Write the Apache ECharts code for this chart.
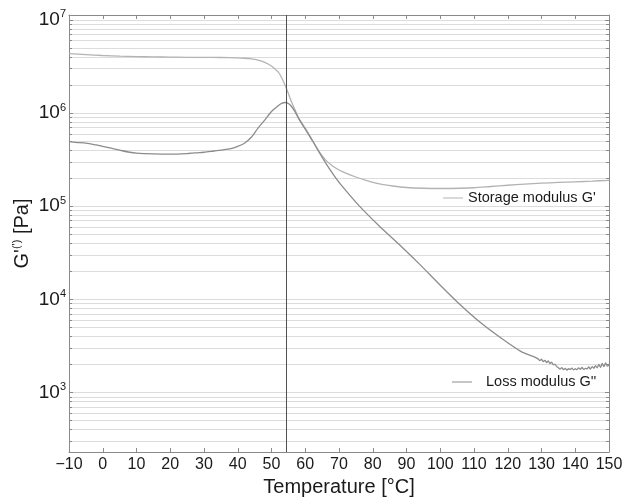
<!DOCTYPE html>
<html>
<head>
<meta charset="utf-8">
<script src="https://cdn.jsdelivr.net/npm/echarts@6/dist/echarts.min.js"></script>
<style>
  html, body { margin: 0; padding: 0; background: #ffffff; }
  #chart { width: 625px; height: 498px; }
</style>
</head>
<body>
<div id="chart"></div>
<script>
// Temperature sweep (°C) and storage modulus G' (Pa)
const storageTemp = [-10, -5, 0, 5, 10, 15, 20, 25, 30, 35, 40, 42, 44, 46, 48, 50, 52, 53, 54, 55, 56, 57, 58, 60, 62, 64, 66, 68, 70, 72, 75, 78, 82, 86, 90, 95, 100, 106, 110, 115, 120, 125, 130, 135, 140, 145, 150];
const storageModulus = [4.35e6, 4.25e6, 4.15e6, 4.08e6, 4.04e6, 4.01e6, 3.99e6, 3.97e6, 3.96e6, 3.95e6, 3.92e6, 3.88e6, 3.82e6, 3.7e6, 3.5e6, 3.2e6, 2.75e6, 2.4e6, 2.0e6, 1.62e6, 1.3e6, 1.08e6, 8.9e5, 6.9e5, 5.2e5, 3.9e5, 3.15e5, 2.72e5, 2.45e5, 2.27e5, 2.06e5, 1.9e5, 1.74e5, 1.65e5, 1.59e5, 1.56e5, 1.55e5, 1.56e5, 1.58e5, 1.63e5, 1.68e5, 1.73e5, 1.77e5, 1.8e5, 1.83e5, 1.86e5, 1.9e5];

// Temperature sweep (°C) and loss modulus G'' (Pa)
const lossTemp = [-10, -8, -5, -2, 0, 3, 5, 8, 10, 15, 20, 25, 28, 30, 33, 35, 38, 40, 42, 44, 46, 48, 50, 52, 53, 54, 55, 56, 57, 58.5, 60.5, 62.5, 64.5, 66.5, 68.5, 70.5, 76, 82, 88, 94, 100, 106, 112, 118, 124, 128,
  129, 129.5, 130, 130.5, 131, 131.5, 132, 132.5, 133, 133.5, 134, 134.5, 135, 135.5, 136, 136.5, 137, 137.5, 138, 138.5, 139, 139.5, 140,
  140.5, 141, 141.5, 142, 142.5, 143, 143.5, 144, 144.5, 145, 145.5, 146, 146.5, 147, 147.5, 148, 148.5, 149, 149.5, 150];
const lossModulus = [4.95e5, 4.85e5, 4.75e5, 4.55e5, 4.4e5, 4.15e5, 4.0e5, 3.8e5, 3.72e5, 3.65e5, 3.62e5, 3.68e5, 3.75e5, 3.8e5, 3.92e5, 4.0e5, 4.15e5, 4.4e5, 4.75e5, 5.5e5, 6.9e5, 8.4e5, 1.04e6, 1.2e6, 1.27e6, 1.3e6, 1.27e6, 1.17e6, 1.03e6, 8.2e5, 6.3e5, 4.8e5, 3.6e5, 2.75e5, 2.15e5, 1.72e5, 1.01e5, 6.1e4, 3.83e4, 2.36e4, 1.42e4, 8.7e3, 5.6e3, 3.85e3, 2.75e3, 2.4e3,
  2.3e3, 2.2e3, 2.28e3, 2.15e3, 2.22e3, 2.1e3, 2.18e3, 2.05e3, 2.12e3, 1.98e3, 2.02e3, 1.9e3, 1.85e3, 1.78e3, 1.85e3, 1.76e3, 1.82e3, 1.74e3, 1.8e3, 1.77e3, 1.83e3, 1.75e3, 1.8e3,
  1.76e3, 1.84e3, 1.78e3, 1.86e3, 1.77e3, 1.82e3, 1.8e3, 1.88e3, 1.79e3, 1.9e3, 1.82e3, 1.95e3, 1.84e3, 2.0e3, 1.86e3, 2.05e3, 1.9e3, 2.08e3, 1.92e3, 1.98e3];

// Transition temperature marker (°C)
const transitionTemp = 54.4;

// Axis ranges
const tempMin = -10, tempMax = 150, tempStep = 10;
const modulusMin = 230, modulusMax = 1.13e7;

const FONT = "'Liberation Sans', Arial, Helvetica, sans-serif";
const TEXT = '#1a1a1a';
const AXIS = '#8a8a8a';
const GRID = '#dcdcdc';

function zip(xs, ys) { return xs.map((x, i) => [x, ys[i]]); }

function powerLabel(v) {
  const e = Math.round(Math.log10(v));
  if (Math.abs(v - Math.pow(10, e)) / v > 1e-6) return '';
  return '{b|10}{e|' + e + '}';
}

const chart = echarts.init(document.getElementById('chart'), null, { renderer: 'canvas' });

const tickStyle = { show: true, inside: true, length: 4, lineStyle: { color: AXIS, width: 1 } };
const lineStyleAxis = { show: true, onZero: false, lineStyle: { color: AXIS, width: 1 } };

chart.setOption({
  animation: false,
  backgroundColor: '#ffffff',
  textStyle: { fontFamily: FONT },
  grid: { left: 69, right: 16, top: 15, bottom: 46, containLabel: false, outerBoundsMode: 'none' },
  legend: [
    {
      data: ["Storage modulus G'"],
      left: 443, top: 190, padding: 0,
      icon: 'rect', itemWidth: 20, itemHeight: 1,
      selectedMode: false,
      textStyle: { fontFamily: FONT, fontSize: 14.5, color: TEXT, lineHeight: 16 }
    },
    {
      data: ["Loss modulus G''"],
      left: 452, top: 374, padding: 0,
      icon: 'rect', itemWidth: 20, itemHeight: 1,
      selectedMode: false,
      textStyle: { fontFamily: FONT, fontSize: 14.5, color: TEXT, lineHeight: 16, padding: [0, 0, 0, 9] }
    }
  ],
  xAxis: [
    {
      type: 'value', position: 'bottom',
      min: tempMin, max: tempMax, interval: tempStep,
      axisLine: lineStyleAxis, axisTick: tickStyle,
      splitLine: { show: false },
      axisLabel: {
        margin: 5, fontSize: 16, color: TEXT, fontFamily: FONT,
        formatter: v => (v < 0 ? '\u2212' + Math.abs(v) : String(v))
      },
      name: 'Temperature [°C]', nameLocation: 'middle', nameGap: 25, nameMoveOverlap: false,
      nameTextStyle: { fontSize: 20, color: TEXT, fontFamily: FONT }
    },
    {
      type: 'value', position: 'top',
      min: tempMin, max: tempMax, interval: tempStep,
      axisLine: lineStyleAxis, axisTick: tickStyle,
      splitLine: { show: false }, axisLabel: { show: false }
    }
  ],
  yAxis: [
    {
      type: 'log', logBase: 10, position: 'left',
      min: modulusMin, max: modulusMax,
      axisLine: lineStyleAxis, axisTick: tickStyle,
      minorTick: { show: true, splitNumber: 9, length: 3, lineStyle: { color: AXIS } },
      splitLine: { show: true, lineStyle: { color: GRID, width: 1 } },
      minorSplitLine: { show: true, lineStyle: { color: GRID, width: 1 } },
      axisLabel: {
        margin: 3, color: TEXT, fontFamily: FONT,
        formatter: powerLabel,
        rich: {
          b: { fontSize: 19, lineHeight: 22, color: TEXT, fontFamily: FONT },
          e: { fontSize: 11, lineHeight: 11, verticalAlign: 'top', color: TEXT, fontFamily: FONT }
        }
      },
      name: "{a|G'}{s|(')}{a| [Pa]}", nameLocation: 'middle', nameRotate: 90, nameGap: 36,
      nameMoveOverlap: false,
      nameTextStyle: {
        color: TEXT, fontFamily: FONT,
        rich: {
          a: { fontSize: 20, lineHeight: 22, color: TEXT, fontFamily: FONT },
          s: { fontSize: 11, lineHeight: 11, verticalAlign: 'top', color: TEXT, fontFamily: FONT }
        }
      }
    },
    {
      type: 'log', logBase: 10, position: 'right',
      min: modulusMin, max: modulusMax,
      axisLine: lineStyleAxis, axisTick: tickStyle,
      minorTick: { show: true, splitNumber: 9, length: 3, lineStyle: { color: AXIS } },
      splitLine: { show: false }, axisLabel: { show: false }
    }
  ],
  series: [
    {
      name: "Storage modulus G'", type: 'line',
      xAxisIndex: 0, yAxisIndex: 0,
      data: zip(storageTemp, storageModulus),
      smooth: 0.25, showSymbol: false, symbol: 'none',
      color: '#b3b3b3',
      lineStyle: { color: '#b3b3b3', width: 1.3 },
      z: 3
    },
    {
      name: "Loss modulus G''", type: 'line',
      xAxisIndex: 0, yAxisIndex: 0,
      data: zip(lossTemp, lossModulus),
      smooth: 0.25, showSymbol: false, symbol: 'none',
      color: '#8c8c8c',
      lineStyle: { color: '#8c8c8c', width: 1.3 },
      z: 4,
      markLine: {
        silent: true, symbol: ['none', 'none'],
        label: { show: false },
        lineStyle: { color: '#505050', width: 1, type: 'solid' },
        data: [{ xAxis: transitionTemp }]
      }
    }
  ]
});
</script>
</body>
</html>
